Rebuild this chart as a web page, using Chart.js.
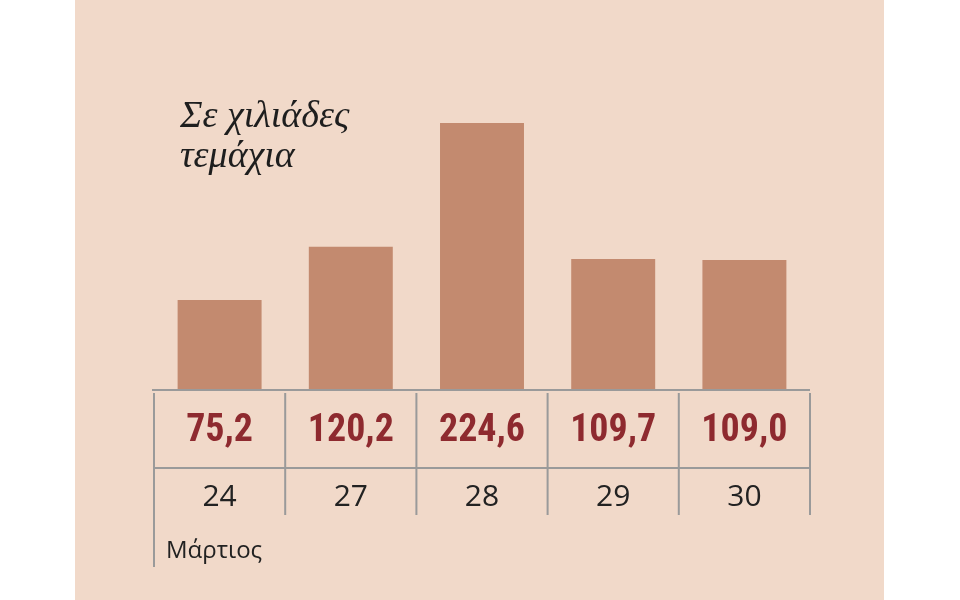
<!DOCTYPE html>
<html><head><meta charset="utf-8">
<script src="https://cdn.jsdelivr.net/npm/chart.js@4"></script>
<style>
html,body{margin:0;padding:0;background:#fff;}
#wrap{position:absolute;left:75px;top:0;width:809px;height:600px;background:#f1d9c9;}
#c{position:absolute;left:0;top:0;}
</style></head><body>
<div id="wrap"></div>
<canvas id="c" width="960" height="600"></canvas>
<script>
const categories = ["24","27","28","29","30"];
const values = [75.2, 120.2, 224.6, 109.7, 109.0];
const valueLabels = ["75,2","120,2","224,6","109,7","109,0"];
const titleLines = ["Σε χιλιάδες","τεμάχια"];
const monthLabel = "Μάρτιος";

const tablePlugin = {
  id:'table',
  afterDraw(chart){
    const ctx = chart.ctx, xs = chart.scales.x, a = chart.chartArea;
    const n = categories.length;
    const step = (a.right - a.left)/n;
    ctx.save();
    ctx.strokeStyle = '#9a9a9a'; ctx.lineWidth = 2;
    ctx.beginPath();
    ctx.moveTo(a.left-2, a.bottom+1); ctx.lineTo(a.right, a.bottom+1);
    ctx.moveTo(a.left, a.bottom+79); ctx.lineTo(a.right, a.bottom+79);
    for(let i=0;i<=n;i++){
      const x = a.left + i*step;
      ctx.moveTo(x, a.bottom+4); ctx.lineTo(x, i===0 ? a.bottom+178 : a.bottom+126);
    }
    ctx.stroke();
    ctx.textAlign='center'; ctx.textBaseline='middle';
    for(let i=0;i<n;i++){
      const x = xs.getPixelForValue(i);
      ctx.fillStyle='#8e2a2f';
      ctx.font='bold 38px "Liberation Sans Narrow","Roboto Condensed","Liberation Sans",sans-serif';
      ctx.fillText(valueLabels[i], x, a.bottom+42);
      ctx.fillStyle='#222';
      ctx.font='30px "Open Sans","Noto Sans",sans-serif';
      ctx.fillText(categories[i], x, a.bottom+108);
    }
    ctx.textAlign='left';
    ctx.font='24px "Open Sans","Noto Sans",sans-serif';
    ctx.fillText(monthLabel, a.left+12, a.bottom+162);
    ctx.font='italic 38px "Liberation Serif","DejaVu Serif",serif';
    ctx.fillStyle='#1e1e1e';
    ctx.fillText(titleLines[0], 180, 117);
    ctx.fillText(titleLines[1], 180, 157);
    ctx.restore();
  }
};

new Chart(document.getElementById('c'), {
  type:'bar',
  data:{labels:categories, datasets:[{data:values, backgroundColor:'#c38a6f', barPercentage:0.64, categoryPercentage:1}]},
  options:{
    responsive:false, animation:false,
    layout:{padding:{left:154, right:150, top:93, bottom:211}},
    plugins:{legend:{display:false}, tooltip:{enabled:false}},
    scales:{
      x:{display:false},
      y:{display:false, min:0, max:250}
    }
  },
  plugins:[tablePlugin]
});
</script>
</body></html>
